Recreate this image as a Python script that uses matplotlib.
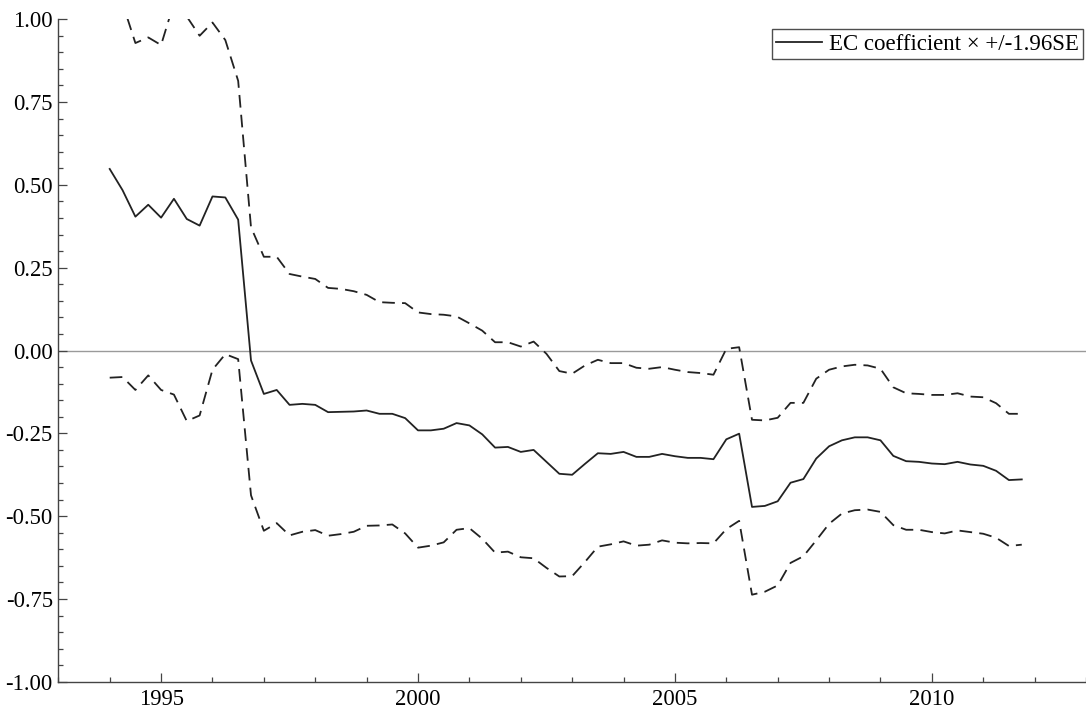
import numpy as np
import matplotlib
matplotlib.use("Agg")
import matplotlib.pyplot as plt
from matplotlib.ticker import MultipleLocator, FixedLocator

plt.rcParams['font.family'] = ['Liberation Serif', 'DejaVu Serif']

# quarterly recursive estimates, 1994Q1 - 2011Q4
start_year = 1994.0
coef = [0.548, 0.484, 0.404, 0.440, 0.401, 0.458, 0.397, 0.377,
        0.465, 0.462, 0.395, -0.030, -0.131, -0.119, -0.164, -0.161,
        -0.164, -0.186, -0.185, -0.184, -0.181, -0.191, -0.191, -0.204,
        -0.241, -0.241, -0.236, -0.219, -0.226, -0.253, -0.293, -0.291,
        -0.306, -0.300, -0.336, -0.372, -0.375, -0.342, -0.310, -0.312,
        -0.306, -0.321, -0.321, -0.312, -0.319, -0.324, -0.324, -0.328,
        -0.268, -0.251, -0.472, -0.469, -0.455, -0.399, -0.388, -0.326,
        -0.289, -0.271, -0.262, -0.262, -0.271, -0.318, -0.334, -0.336,
        -0.341, -0.343, -0.336, -0.344, -0.348, -0.363, -0.391, -0.389]
upper = [1.178, 1.048, 0.928, 0.945, 0.922, 1.049, 1.008, 0.950,
         0.990, 0.937, 0.814, 0.372, 0.283, 0.283, 0.231, 0.223,
         0.216, 0.189, 0.186, 0.179, 0.168, 0.146, 0.144, 0.143,
         0.115, 0.110, 0.108, 0.103, 0.082, 0.060, 0.025, 0.025,
         0.012, 0.027, -0.010, -0.062, -0.070, -0.045, -0.028, -0.038,
         -0.038, -0.052, -0.055, -0.050, -0.058, -0.065, -0.068, -0.073,
         0.005, 0.010, -0.209, -0.211, -0.203, -0.158, -0.158, -0.085,
         -0.058, -0.048, -0.043, -0.045, -0.055, -0.111, -0.129, -0.131,
         -0.134, -0.134, -0.129, -0.139, -0.141, -0.159, -0.191, -0.191]
lower = [-0.082, -0.080, -0.119, -0.075, -0.119, -0.133, -0.213, -0.196,
         -0.058, -0.011, -0.026, -0.437, -0.544, -0.521, -0.558, -0.547,
         -0.542, -0.559, -0.554, -0.547, -0.529, -0.528, -0.525, -0.552,
         -0.595, -0.589, -0.579, -0.541, -0.536, -0.568, -0.610, -0.607,
         -0.624, -0.627, -0.656, -0.682, -0.681, -0.638, -0.592, -0.585,
         -0.576, -0.589, -0.586, -0.573, -0.580, -0.582, -0.581, -0.582,
         -0.539, -0.514, -0.737, -0.728, -0.709, -0.641, -0.621, -0.573,
         -0.523, -0.492, -0.482, -0.480, -0.487, -0.527, -0.541, -0.541,
         -0.548, -0.552, -0.543, -0.548, -0.553, -0.565, -0.590, -0.586]
label = "EC coefficient \u00d7 +/-1.96SE"

t = start_year + np.arange(len(coef)) / 4.0

fig = plt.figure(figsize=(10.86, 7.11), dpi=100)
ax = fig.add_axes([0.0537, 0.041, 0.9463, 0.932])

ax.axhline(0.0, color='#9a9a9a', lw=1.0, zorder=1)
ax.plot(t, coef, color='#222222', lw=1.3, label=label, zorder=3)
ax.plot(t, upper, color='#222222', lw=1.3, dashes=(7, 4), zorder=3)
ax.plot(t, lower, color='#222222', lw=1.3, dashes=(7, 4), zorder=3)

ax.set_xlim(1993.0, 2013.0)
ax.set_ylim(-1.0, 1.0)

ax.xaxis.set_major_locator(FixedLocator([1995, 2000, 2005, 2010]))
ax.xaxis.set_minor_locator(MultipleLocator(1))
ax.yaxis.set_major_locator(MultipleLocator(0.25))
ax.yaxis.set_minor_locator(MultipleLocator(0.05))
ax.yaxis.set_major_formatter(matplotlib.ticker.FormatStrFormatter('%.2f'))

for s in ['top', 'right']:
    ax.spines[s].set_visible(False)
for s in ['left', 'bottom']:
    ax.spines[s].set_color('#444444')
    ax.spines[s].set_linewidth(1.0)

ax.tick_params(which='major', direction='in', length=6.5, width=0.9,
               color='#444444', labelsize=16.3, pad=4)
ax.tick_params(which='minor', direction='in', length=3.6, width=0.9,
               color='#444444')
ax.tick_params(axis='x', which='major', pad=5)

leg = ax.legend(loc='upper right', bbox_to_anchor=(0.9975, 0.985),
                fontsize=16.5, frameon=True, fancybox=False, borderpad=0.2,
                handlelength=2.0, handletextpad=0.3, borderaxespad=0.0)
leg.get_frame().set_edgecolor('#222222')
leg.get_frame().set_linewidth(1.0)

fig.savefig('out.png', dpi=100)
